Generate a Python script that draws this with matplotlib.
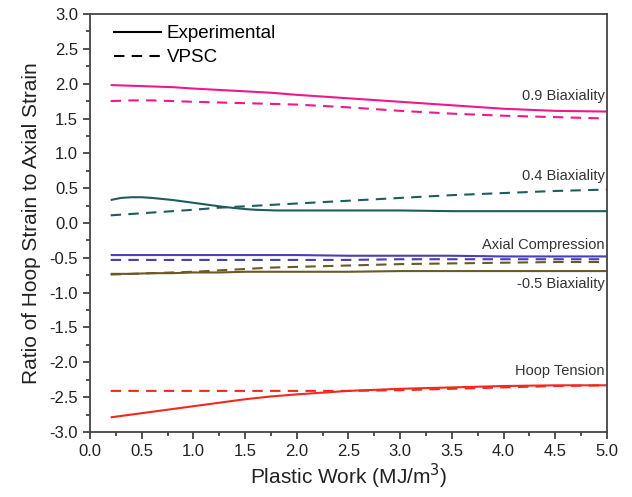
import matplotlib
matplotlib.use("Agg")
import matplotlib.pyplot as plt
from matplotlib.ticker import MultipleLocator

plt.rcParams["font.family"] = ["Liberation Sans", "DejaVu Sans"]

### DATA ###
work = [0.2, 0.4, 0.6, 0.8, 1.0, 1.25, 1.5, 1.75, 2.0, 2.5, 3.0, 3.5, 4.0, 4.5, 5.0]

bi09_exp = [1.98, 1.97, 1.96, 1.95, 1.93, 1.91, 1.89, 1.87, 1.84, 1.79, 1.74, 1.69, 1.64, 1.61, 1.60]
bi09_vpsc = [1.75, 1.76, 1.76, 1.75, 1.74, 1.73, 1.72, 1.71, 1.70, 1.66, 1.61, 1.57, 1.54, 1.52, 1.50]

# the 0.4 experimental curve has a hump early on, so it gets a finer grid
work_fine = [0.2, 0.3, 0.4, 0.5, 0.6, 0.7, 0.8, 0.9, 1.0, 1.1, 1.2, 1.3, 1.4, 1.5,
             1.6, 1.7, 1.8, 2.0, 2.5, 3.0, 3.5, 4.0, 4.5, 5.0]
bi04_exp = [0.33, 0.36, 0.37, 0.37, 0.36, 0.345, 0.33, 0.31, 0.29, 0.27, 0.25, 0.23,
            0.215, 0.20, 0.19, 0.185, 0.18, 0.18, 0.18, 0.18, 0.17, 0.17, 0.17, 0.17]
bi04_vpsc = [0.11, 0.13, 0.15, 0.17, 0.19, 0.22, 0.24, 0.26, 0.28, 0.32, 0.36, 0.40, 0.43, 0.46, 0.48]

axial_exp = [-0.46, -0.46, -0.46, -0.46, -0.46, -0.46, -0.46, -0.46, -0.46, -0.47, -0.47, -0.47, -0.48, -0.48, -0.48]
axial_vpsc = [-0.53, -0.53, -0.53, -0.53, -0.53, -0.53, -0.53, -0.53, -0.53, -0.53, -0.52, -0.52, -0.52, -0.52, -0.52]

bim05_exp = [-0.73, -0.73, -0.72, -0.72, -0.71, -0.71, -0.70, -0.70, -0.70, -0.70, -0.69, -0.69, -0.69, -0.69, -0.69]
bim05_vpsc = [-0.74, -0.73, -0.72, -0.71, -0.70, -0.68, -0.66, -0.64, -0.63, -0.61, -0.59, -0.58, -0.57, -0.56, -0.56]

hoop_exp = [-2.79, -2.75, -2.71, -2.67, -2.63, -2.58, -2.53, -2.49, -2.46, -2.41, -2.38, -2.36, -2.34, -2.33, -2.33]
hoop_vpsc = [-2.41, -2.41, -2.41, -2.41, -2.41, -2.41, -2.41, -2.41, -2.41, -2.41, -2.40, -2.38, -2.36, -2.34, -2.33]

cases = [
    ("0.9 Biaxiality", work, bi09_exp, bi09_vpsc, "#f0188c", 1.72),
    ("0.4 Biaxiality", work_fine, bi04_exp, bi04_vpsc, "#1f5c5e", 0.58),
    ("Axial Compression", work, axial_exp, axial_vpsc, "#4a3fb5", -0.42),
    ("-0.5 Biaxiality", work, bim05_exp, bim05_vpsc, "#6a5a24", -0.78),
    ("Hoop Tension", work, hoop_exp, hoop_vpsc, "#f02a1c", -2.23),
]

### PLOT ###
fig = plt.figure(figsize=(6.32, 4.97), dpi=100)
ax = fig.add_axes([0.1424, 0.1308, 0.818, 0.841])

dash = (0, (5, 3.5))
for name, x_exp, exp, vpsc, color, label_y in cases:
    ax.plot(x_exp, exp, color=color, lw=1.5, solid_capstyle="butt")
    ax.plot(work, vpsc, color=color, lw=1.5, linestyle=dash)
    va = "top" if name == "-0.5 Biaxiality" else "bottom"
    ax.text(4.98, label_y, name, ha="right", va=va, fontsize=10.5, color="#333333")

# legend drawn in black
ax.plot([], [], color="black", lw=1.5, label="Experimental")
ax.plot([], [], color="black", lw=1.5, linestyle=dash, label="VPSC")
handles, labels = ax.get_legend_handles_labels()
ax.legend(handles, labels, loc="upper left", frameon=False, fontsize=13.5,
          handlelength=2.5, handletextpad=0.3, labelspacing=0.35,
          borderaxespad=0.2, bbox_to_anchor=(0.025, 1.0))

ax.set_xlim(0, 5)
ax.set_ylim(-3, 3)
ax.xaxis.set_major_locator(MultipleLocator(0.5))
ax.xaxis.set_minor_locator(MultipleLocator(0.25))
ax.yaxis.set_major_locator(MultipleLocator(0.5))
ax.yaxis.set_minor_locator(MultipleLocator(0.25))
ax.xaxis.set_major_formatter(plt.FormatStrFormatter("%.1f"))
ax.yaxis.set_major_formatter(plt.FormatStrFormatter("%.1f"))

ax.tick_params(which="both", direction="out", top=False, right=False,
               color="#333333", width=1.2)
ax.tick_params(which="major", length=5, labelsize=12, labelcolor="#222222")
ax.tick_params(which="minor", length=3)
for s in ax.spines.values():
    s.set_color("#444444")
    s.set_linewidth(1.3)

ax.set_xlabel("Plastic Work (MJ/m$^3$)", fontsize=15, color="#222222", labelpad=2)
ax.set_ylabel("Ratio of Hoop Strain to Axial Strain", fontsize=15, color="#222222", labelpad=6)

fig.savefig("out.png", dpi=100)
